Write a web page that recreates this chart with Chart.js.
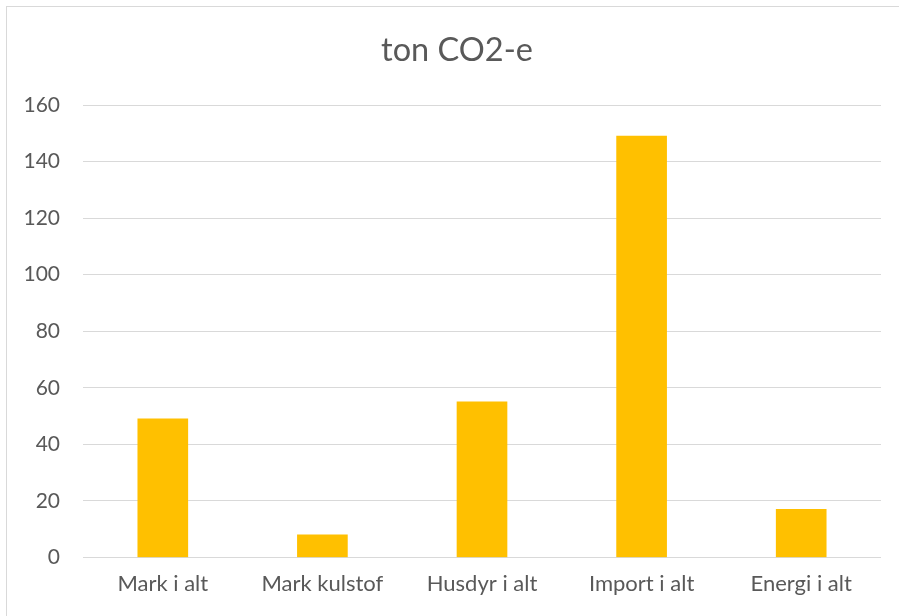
<!DOCTYPE html>
<html><head><meta charset="utf-8">
<script src="https://cdn.jsdelivr.net/npm/chart.js@4.4.1/dist/chart.umd.min.js"></script>
<style>
html,body{margin:0;padding:0;background:#fff;}
#frame{position:absolute;left:6px;top:6px;width:1000px;height:1000px;border:1px solid #d9d9d9;box-sizing:border-box;}
#wrap{position:absolute;left:0;top:0;width:899px;height:616px;}
</style></head>
<body>
<div id="frame"></div>
<div id="wrap"><canvas id="c"></canvas></div>
<script>
const categories = ["Mark i alt", "Mark kulstof", "Husdyr i alt", "Import i alt", "Energi i alt"];
const values = [49, 8, 55, 149, 17];
const yTicks = [0, 20, 40, 60, 80, 100, 120, 140, 160];
const titleText = "ton CO2-e";

const FONT = "Lato, 'Liberation Sans', sans-serif";
const centerTitle = {
  id: 'centerTitle',
  afterLayout(chart) {
    const tb = chart.titleBlock;
    if (tb) { tb.left = 15; tb.right = 899; }
  }
};
new Chart(document.getElementById('c'), {
  type: 'bar',
  data: { labels: categories, datasets: [{ data: values, backgroundColor: '#ffc000', barThickness: 50 }] },
  plugins: [centerTitle],
  options: {
    responsive: true, maintainAspectRatio: false, animation: false,
    layout: { padding: { left: 0, right: 18, top: 0, bottom: 0 } },
    plugins: {
      legend: { display: false }, tooltip: { enabled: false },
      title: { display: true, text: titleText, color: '#595959',
        font: { family: FONT, size: 32.5, weight: 'normal' }, padding: { top: 31, bottom: 35 } }
    },
    scales: {
      x: { grid: { display: false, drawTicks: false }, border: { display: false },
        ticks: { color: '#595959', font: { family: FONT, size: 22 }, padding: 13 },
        afterFit: s => { s.height = 58.5; } },
      y: { min: 0, max: 160, afterBuildTicks: s => { s.ticks = yTicks.map(v => ({ value: v })); },
        grid: { color: '#d9d9d9', lineWidth: 1, drawTicks: false }, border: { display: false },
        ticks: { color: '#595959', font: { family: FONT, size: 21 }, padding: 23 },
        afterFit: s => { s.width = 83; } }
    }
  }
});
</script>
</body></html>
